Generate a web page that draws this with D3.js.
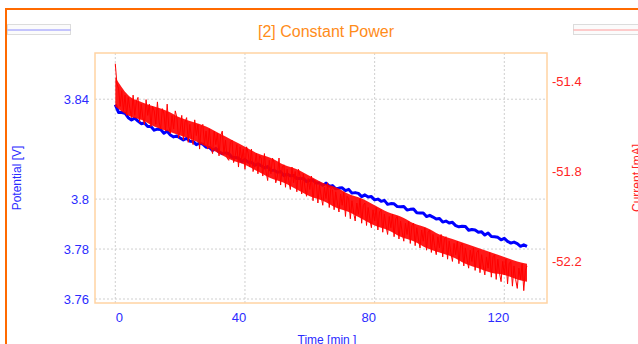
<!DOCTYPE html>
<html>
<head>
<meta charset="utf-8">
<script src="https://cdn.jsdelivr.net/npm/d3@7"></script>
<style>
  html, body { margin: 0; padding: 0; background: #fff; }
  svg { display: block; font-family: "Liberation Sans", Arial, sans-serif; }
</style>
</head>
<body>
<svg id="chart" width="638" height="344"></svg>
<script>
// Chart values
const chartTitle = '[2] Constant Power';
const xTickValues = [0, 40, 80, 120];
const potentialTicks = [3.76, 3.78, 3.8, 3.84];
const currentTicks = [-52.2, -51.8, -51.4];

// Potential [V], one sample per minute (t = 0..127)
const potentialStep = 1;
const potential = [
  3.8378, 3.8347, 3.8347, 3.8344, 3.8326, 3.8317, 3.8324, 3.8312, 3.8302, 3.8305,
  3.8291, 3.8291, 3.8276, 3.8280, 3.8279, 3.8264, 3.8272, 3.8257, 3.8249, 3.8253,
  3.8245, 3.8237, 3.8243, 3.8232, 3.8231, 3.8218, 3.8224, 3.8220, 3.8208, 3.8207,
  3.8195, 3.8203, 3.8189, 3.8182, 3.8185, 3.8183, 3.8168, 3.8167, 3.8165, 3.8150,
  3.8158, 3.8148, 3.8148, 3.8135, 3.8141, 3.8134, 3.8125, 3.8130, 3.8114, 3.8116,
  3.8107, 3.8110, 3.8094, 3.8100, 3.8093, 3.8095, 3.8082, 3.8082, 3.8083, 3.8070,
  3.8075, 3.8075, 3.8064, 3.8064, 3.8055, 3.8064, 3.8052, 3.8054, 3.8041, 3.8044,
  3.8045, 3.8034, 3.8039, 3.8024, 3.8026, 3.8023, 3.8010, 3.8017, 3.8008, 3.8010,
  3.7997, 3.8000, 3.7991, 3.7995, 3.7979, 3.7982, 3.7981, 3.7970, 3.7969, 3.7970,
  3.7956, 3.7959, 3.7960, 3.7945, 3.7944, 3.7944, 3.7930, 3.7935, 3.7928, 3.7920,
  3.7922, 3.7908, 3.7912, 3.7904, 3.7907, 3.7894, 3.7889, 3.7891, 3.7890, 3.7875,
  3.7878, 3.7876, 3.7867, 3.7869, 3.7856, 3.7864, 3.7850, 3.7849, 3.7847, 3.7837,
  3.7843, 3.7831, 3.7824, 3.7828, 3.7822, 3.7811, 3.7817, 3.7811
];

// Current [mA], one sample per half minute (t = 0..127)
const currentStep = 0.5;
const current = [
  -51.32, -51.41, -51.43, -51.51, -51.44, -51.53, -51.46, -51.55, -51.47, -51.52,
  -51.56, -51.46, -51.55, -51.49, -51.47, -51.58, -51.50, -51.56, -51.59, -51.48,
  -51.55, -51.50, -51.60, -51.51, -51.53, -51.59, -51.49, -51.58, -51.61, -51.52,
  -51.54, -51.62, -51.50, -51.60, -51.63, -51.55, -51.61, -51.53, -51.56, -51.65,
  -51.62, -51.55, -51.66, -51.58, -51.56, -51.67, -51.59, -51.65, -51.68, -51.57,
  -51.64, -51.59, -51.70, -51.60, -51.59, -51.68, -51.62, -51.70, -51.61, -51.69,
  -51.72, -51.62, -51.68, -51.63, -51.73, -51.64, -51.62, -51.72, -51.66, -51.74,
  -51.75, -51.67, -51.66, -51.76, -51.73, -51.68, -51.78, -51.69, -51.75, -51.70,
  -51.79, -51.69, -51.72, -51.78, -51.70, -51.80, -51.77, -51.72, -51.81, -51.73,
  -51.74, -51.82, -51.72, -51.80, -51.84, -51.75, -51.81, -51.74, -51.76, -51.85,
  -51.82, -51.74, -51.86, -51.78, -51.77, -51.87, -51.79, -51.84, -51.88, -51.78,
  -51.85, -51.80, -51.89, -51.79, -51.82, -51.90, -51.81, -51.87, -51.91, -51.83,
  -51.88, -51.82, -51.93, -51.84, -51.85, -51.94, -51.86, -51.91, -51.95, -51.87,
  -51.92, -51.85, -51.96, -51.87, -51.88, -51.97, -51.89, -51.94, -51.98, -51.90,
  -51.95, -51.89, -52.00, -51.91, -51.92, -52.01, -51.93, -51.98, -52.02, -51.94,
  -51.99, -51.92, -52.03, -51.95, -51.94, -52.04, -51.96, -52.01, -52.05, -51.97,
  -52.02, -51.96, -52.06, -51.98, -51.97, -52.07, -51.99, -52.04, -52.08, -52.00,
  -52.05, -51.99, -52.09, -52.01, -52.00, -52.10, -52.02, -52.07, -52.11, -52.03,
  -52.08, -52.02, -52.12, -52.04, -52.03, -52.13, -52.05, -52.10, -52.14, -52.06,
  -52.11, -52.05, -52.15, -52.07, -52.06, -52.16, -52.08, -52.13, -52.17, -52.09,
  -52.14, -52.08, -52.18, -52.10, -52.09, -52.19, -52.11, -52.16, -52.20, -52.12,
  -52.17, -52.11, -52.21, -52.13, -52.12, -52.22, -52.14, -52.19, -52.23, -52.15,
  -52.20, -52.14, -52.24, -52.16, -52.15, -52.25, -52.17, -52.22, -52.26, -52.18,
  -52.23, -52.16, -52.27, -52.18, -52.17, -52.28, -52.19, -52.25, -52.29, -52.20,
  -52.26, -52.19, -52.30, -52.21, -52.20, -52.31, -52.22, -52.28, -52.32, -52.23,
  -52.28, -52.21, -52.33, -52.24, -52.22
];

// Dense core of the current noise band [mA], read at these times [min]
const currentBandTimes = [
  0, 4, 8, 12, 16, 20, 24, 28, 32, 36, 40, 44, 48, 52, 56, 60, 64,
  68, 72, 76, 80, 84, 88, 92, 96, 100, 104, 108, 112, 116, 120, 124, 127
];
const currentBandUpper = [
  -51.38, -51.46, -51.49, -51.51, -51.53, -51.56, -51.58, -51.60, -51.63, -51.66, -51.69,
  -51.72, -51.74, -51.77, -51.79, -51.82, -51.85, -51.87, -51.90, -51.92, -51.95, -51.98,
  -52.00, -52.03, -52.05, -52.08, -52.10, -52.12, -52.14, -52.16, -52.18, -52.20, -52.21
];
const currentBandLower = [
  -51.51, -51.55, -51.57, -51.60, -51.62, -51.64, -51.66, -51.69, -51.72, -51.75, -51.77,
  -51.80, -51.83, -51.85, -51.88, -51.91, -51.93, -51.96, -51.98, -52.01, -52.04, -52.06,
  -52.09, -52.11, -52.14, -52.16, -52.18, -52.21, -52.23, -52.25, -52.26, -52.28, -52.29
];

const colors = {
  border: '#ff6a00',
  title: '#ff8c1a',
  frame: '#ffd3a3',
  grid: '#cfcfcf',
  potential: '#0000ff',
  potentialText: '#2b2bff',
  current: '#ff0000',
  currentText: '#ff2424'
};

const plot = { left: 95, top: 53, right: 547, bottom: 303 };

const svg = d3.select('#chart');

// Scales
const xScale = d3.scaleLinear().domain([-6.26, 133.17]).range([plot.left, plot.right]);
const yLeft = d3.scaleLinear().domain([3.7584, 3.8585]).range([plot.bottom, plot.top]);
const yRight = d3.scaleLinear().domain([-52.385, -51.2724]).range([plot.bottom, plot.top]);

// Outer orange border (runs off the right and bottom)
svg.append('path')
  .attr('d', 'M6,345 V9 H640')
  .attr('fill', 'none')
  .attr('stroke', colors.border)
  .attr('stroke-width', 2);

// Legend strips
function legendStrip(x, w, lineColor) {
  const g = svg.append('g');
  g.append('rect')
    .attr('x', x).attr('y', 24.5).attr('width', w).attr('height', 10)
    .attr('fill', '#fbfbfb').attr('stroke', '#dcdcdc');
  g.append('line')
    .attr('x1', x).attr('x2', x + w).attr('y1', 30).attr('y2', 30)
    .attr('stroke', lineColor).attr('stroke-width', 1);
}
legendStrip(7.5, 63, '#8c8cff');
legendStrip(573.5, 70, '#ff9a9a');

// Title
svg.append('text')
  .attr('x', 326).attr('y', 37)
  .attr('text-anchor', 'middle')
  .attr('font-size', 16)
  .attr('fill', colors.title)
  .text(chartTitle);

// Grid lines
const grid = svg.append('g').attr('class', 'grid');
grid.selectAll('line.h')
  .data(potentialTicks)
  .enter().append('line')
  .attr('class', 'h')
  .attr('x1', plot.left).attr('x2', plot.right)
  .attr('y1', d => yLeft(d)).attr('y2', d => yLeft(d))
  .attr('stroke', colors.grid).attr('stroke-dasharray', '2,2');
grid.selectAll('line.v')
  .data(xTickValues)
  .enter().append('line')
  .attr('class', 'v')
  .attr('x1', d => xScale(d)).attr('x2', d => xScale(d))
  .attr('y1', plot.top).attr('y2', plot.bottom)
  .attr('stroke', colors.grid).attr('stroke-dasharray', '2,2');

// Data lines
svg.append('clipPath').attr('id', 'plot-clip')
  .append('rect')
  .attr('x', plot.left).attr('y', plot.top)
  .attr('width', plot.right - plot.left).attr('height', plot.bottom - plot.top);

const data = svg.append('g').attr('clip-path', 'url(#plot-clip)');

const potentialLine = d3.line()
  .x((d, i) => xScale(i * potentialStep))
  .y(d => yLeft(d));
const currentLine = d3.line()
  .x((d, i) => xScale(i * currentStep))
  .y(d => yRight(d));
const currentBand = d3.area()
  .x((d, i) => xScale(currentBandTimes[i]))
  .y0((d, i) => yRight(currentBandLower[i]))
  .y1(d => yRight(d))
  .curve(d3.curveMonotoneX);

data.append('path')
  .datum(potential)
  .attr('d', potentialLine)
  .attr('fill', 'none')
  .attr('stroke', colors.potential)
  .attr('stroke-width', 3)
  .attr('stroke-linejoin', 'round');

data.append('path')
  .datum(currentBandUpper)
  .attr('d', currentBand)
  .attr('fill', colors.current)
  .attr('fill-opacity', 0.9)
  .attr('stroke', 'none');

data.append('path')
  .datum(current)
  .attr('d', currentLine)
  .attr('fill', 'none')
  .attr('stroke', colors.current)
  .attr('stroke-width', 1);

// Plot frame
svg.append('rect')
  .attr('x', plot.left).attr('y', plot.top)
  .attr('width', plot.right - plot.left).attr('height', plot.bottom - plot.top)
  .attr('fill', 'none')
  .attr('stroke', colors.frame)
  .attr('stroke-width', 1.5);

// Axes
function styleAxis(g, color) {
  g.select('.domain').remove();
  g.selectAll('.tick line').remove();
  g.selectAll('text')
    .attr('font-family', '"Liberation Sans", Arial, sans-serif')
    .attr('font-size', 13)
    .attr('fill', color);
}

svg.append('g')
  .attr('transform', `translate(${plot.left},0)`)
  .call(d3.axisLeft(yLeft).tickValues(potentialTicks).tickSize(0).tickPadding(6)
    .tickFormat(d => String(d)))
  .call(g => styleAxis(g, colors.potentialText));

svg.append('g')
  .attr('transform', `translate(${plot.right},0)`)
  .call(d3.axisRight(yRight).tickValues(currentTicks).tickSize(0).tickPadding(5)
    .tickFormat(d => String(d)))
  .call(g => styleAxis(g, colors.currentText));

svg.append('g')
  .attr('transform', `translate(0,${plot.bottom})`)
  .call(d3.axisBottom(xScale).tickValues(xTickValues).tickSize(0).tickPadding(10)
    .tickFormat(d => String(d)))
  .call(g => styleAxis(g, colors.potentialText))
  .call(g => g.selectAll('text')
    // first label starts on its grid line, the rest sit a little left of theirs
    .attr('text-anchor', (d, i) => i === 0 ? 'start' : 'middle')
    .attr('dx', (d, i) => i === 0 ? 0 : -6.5));

// Axis titles (clipped by the window edges as in the original)
svg.append('text')
  .attr('transform', 'translate(21,178) rotate(-90)')
  .attr('text-anchor', 'middle')
  .attr('font-size', 12)
  .attr('fill', colors.potentialText)
  .text('Potential [V]');

svg.append('text')
  .attr('transform', 'translate(641,178) rotate(-90)')
  .attr('text-anchor', 'middle')
  .attr('font-size', 12)
  .attr('fill', colors.currentText)
  .text('Current [mA]');

svg.append('text')
  .attr('x', 327).attr('y', 344)
  .attr('text-anchor', 'middle')
  .attr('font-size', 12)
  .attr('fill', colors.potentialText)
  .text('Time [min ]');
</script>
</body>
</html>
